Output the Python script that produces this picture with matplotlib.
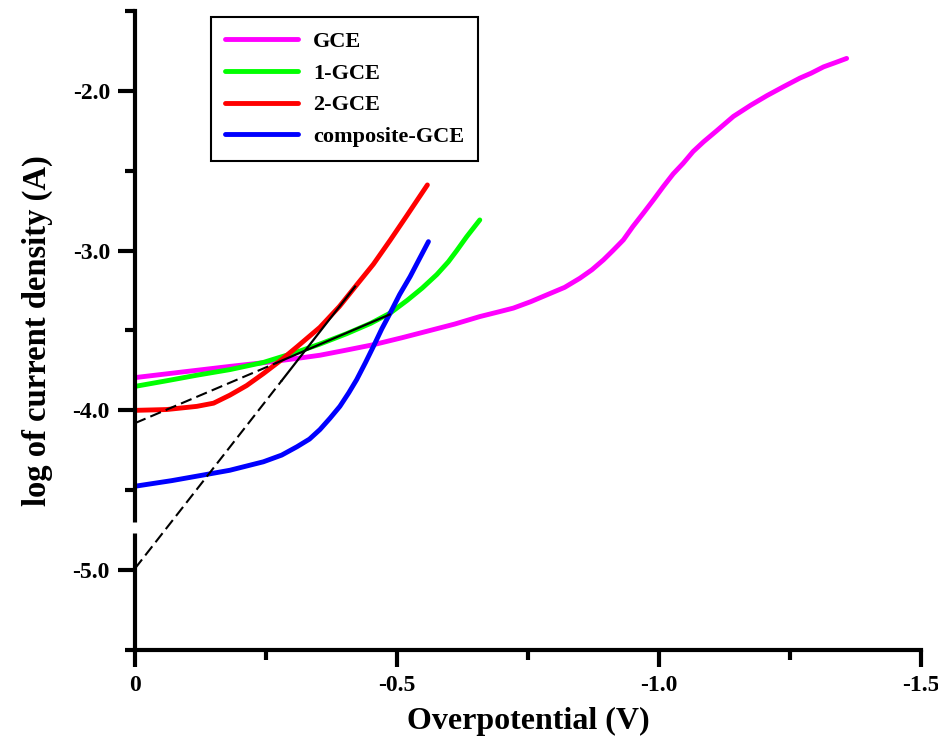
import numpy as np
import matplotlib
matplotlib.use("Agg")
import matplotlib.pyplot as plt
from matplotlib.ticker import FixedLocator

plt.rcParams['font.family'] = ['Liberation Serif', 'DejaVu Serif']
plt.rcParams['font.weight'] = 'bold'

# (overpotential in V, log of current density)
gce_x = [0, -0.09, -0.181, -0.25, -0.309, -0.353, -0.40, -0.455, -0.51, -0.563,
         -0.61, -0.658, -0.697, -0.722, -0.755, -0.786, -0.82, -0.849, -0.872, -0.894,
         -0.912, -0.932, -0.950, -0.970, -0.99, -1.008, -1.027, -1.046, -1.065, -1.085,
         -1.11, -1.142, -1.175, -1.206, -1.237, -1.269, -1.29, -1.314, -1.335, -1.358]
gce_y = [-3.795, -3.76, -3.725, -3.70, -3.675, -3.655, -3.625, -3.589, -3.545, -3.50,
         -3.46, -3.413, -3.381, -3.36, -3.32, -3.277, -3.23, -3.173, -3.12, -3.058,
         -3.00, -2.933, -2.85, -2.766, -2.68, -2.60, -2.52, -2.454, -2.38, -2.319,
         -2.25, -2.16, -2.09, -2.03, -1.975, -1.92, -1.89, -1.85, -1.825, -1.797]

gce1_x = [0, -0.06, -0.118, -0.181, -0.245, -0.309, -0.353, -0.404, -0.45, -0.487,
          -0.52, -0.548, -0.576, -0.598, -0.614, -0.633, -0.658]
gce1_y = [-3.85, -3.815, -3.78, -3.745, -3.70, -3.635, -3.585, -3.52, -3.455, -3.391,
          -3.31, -3.235, -3.15, -3.07, -3.00, -2.913, -2.808]

gce2_x = [0, -0.06, -0.118, -0.15, -0.181, -0.213, -0.245, -0.277, -0.31, -0.353,
          -0.39, -0.423, -0.455, -0.487, -0.518, -0.558]
gce2_y = [-4.0, -3.995, -3.975, -3.955, -3.905, -3.845, -3.77, -3.69, -3.60, -3.48,
          -3.35, -3.215, -3.085, -2.935, -2.785, -2.589]

comp_x = [0, -0.07, -0.13, -0.181, -0.245, -0.28, -0.309, -0.333, -0.353, -0.372,
          -0.391, -0.408, -0.423, -0.44, -0.455, -0.471, -0.487, -0.505, -0.525,
          -0.543, -0.560]
comp_y = [-4.475, -4.44, -4.405, -4.375, -4.322, -4.28, -4.228, -4.18, -4.12, -4.05,
          -3.975, -3.89, -3.808, -3.70, -3.60, -3.49, -3.391, -3.275, -3.163,
          -3.05, -2.944]

# Tafel fit lines: intercept at 0 V, start of the solid part, end of the fit
fit1_x = [0, -0.27, -0.486]
fit1_y = [-4.08, -3.703, -3.40]
fit2_x = [0, -0.28, -0.42]
fit2_y = [-4.99, -3.814, -3.225]

fig = plt.figure(figsize=(9.38, 7.46), dpi=100)
ax = fig.add_axes([0.1439, 0.1287, 0.838, 0.8566])

lw = 3.5
ax.plot(gce_x, gce_y, color='#ff00ff', lw=lw, label='GCE', solid_capstyle='round')
ax.plot(gce1_x, gce1_y, color='#00ff00', lw=lw, label='1-GCE', solid_capstyle='round')
ax.plot(gce2_x, gce2_y, color='#ff0000', lw=lw, label='2-GCE', solid_capstyle='round')
ax.plot(comp_x, comp_y, color='#0000ff', lw=lw, label='composite-GCE', solid_capstyle='round')

for fx, fy in [(fit1_x, fit1_y), (fit2_x, fit2_y)]:
    ax.plot(fx[:2], fy[:2], color='black', lw=1.5, dashes=(5.5, 2.5))
    ax.plot(fx[1:], fy[1:], color='black', lw=1.6)

ax.set_xlim(0, -1.5)
ax.set_ylim(-5.5, -1.5)

ax.spines['top'].set_visible(False)
ax.spines['right'].set_visible(False)
ax.spines['left'].set_linewidth(3)
ax.spines['bottom'].set_linewidth(3)

ax.xaxis.set_major_locator(FixedLocator([0, -0.5, -1.0, -1.5]))
ax.xaxis.set_minor_locator(FixedLocator([-0.25, -0.75, -1.25]))
ax.set_xticklabels(['0', '-0.5', '-1.0', '-1.5'])
ax.yaxis.set_major_locator(FixedLocator([-5.0, -4.0, -3.0, -2.0]))
ax.yaxis.set_minor_locator(FixedLocator([-5.5, -4.5, -3.5, -2.5, -1.5]))
ax.set_yticklabels(['-5.0', '-4.0', '-3.0', '-2.0'])
ax.tick_params(which='major', length=12, width=3, labelsize=17, pad=6, direction='out')
ax.tick_params(which='minor', length=7, width=3, direction='out')

# axis break on the y axis
ax.plot([0, 0], [-4.765, -4.70], transform=ax.get_yaxis_transform(), color='white',
        lw=8, clip_on=False, zorder=5, solid_capstyle='butt')

ax.set_xlabel('Overpotential (V)', fontsize=23, fontweight='bold', labelpad=8)
ax.set_ylabel('log of current density (A)', fontsize=23.5, fontweight='bold', labelpad=14)

leg = ax.legend(loc='upper left', bbox_to_anchor=(211 / 938, 1 - 17 / 746),
                bbox_transform=fig.transFigure, borderaxespad=0, fontsize=16,
                handlelength=3.25, labelspacing=0.5, handletextpad=0.68, borderpad=0.65,
                fancybox=False, framealpha=1, edgecolor='black')
leg.get_frame().set_linewidth(1.5)

fig.savefig('out.png', dpi=100)
